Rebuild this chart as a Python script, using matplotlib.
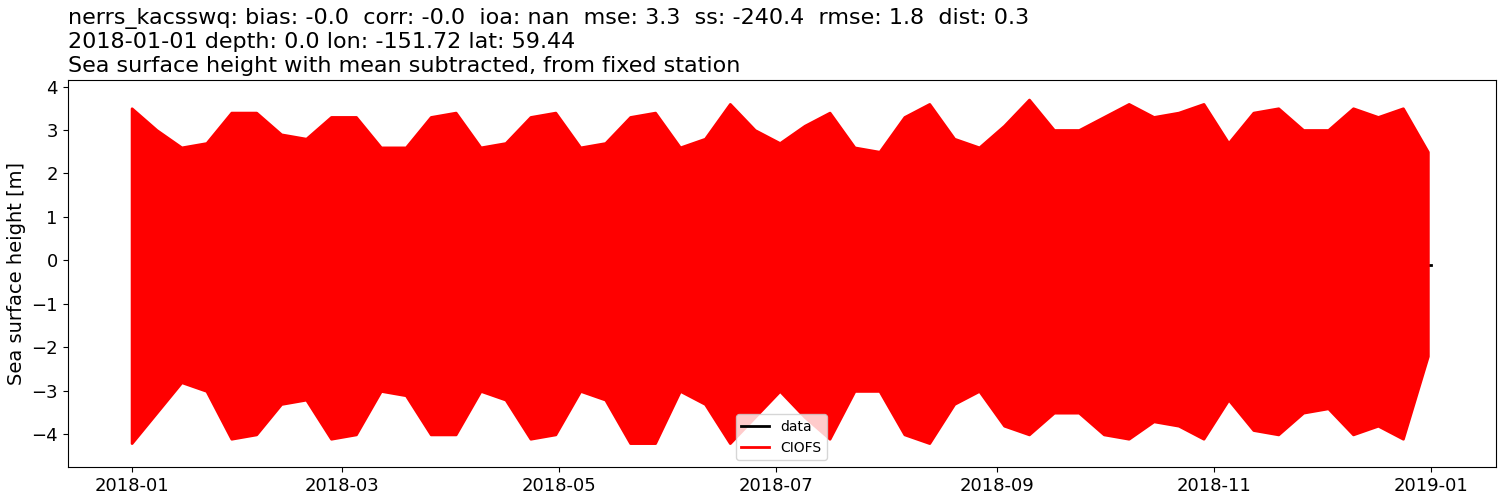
import numpy as np
import pandas as pd
import matplotlib.pyplot as plt

# envelope of the modelled sea surface height
days = np.arange(0, 365, 7)
upper = [3.5, 3.0, 2.6, 2.7, 3.4, 3.4, 2.9, 2.8, 3.3, 3.3, 2.6, 2.6, 3.3, 3.4,
         2.6, 2.7, 3.3, 3.4, 2.6, 2.7, 3.3, 3.4, 2.6, 2.8, 3.6, 3.0, 2.7, 3.1,
         3.4, 2.6, 2.5, 3.3, 3.6, 2.8, 2.6, 3.1, 3.7, 3.0, 3.0, 3.3, 3.6, 3.3,
         3.4, 3.6, 2.7, 3.4, 3.5, 3.0, 3.0, 3.5, 3.3, 3.5, 2.5]
lower = [-4.2, -3.5, -2.8, -3.0, -4.1, -4.0, -3.3, -3.2, -4.1, -4.0, -3.0, -3.1,
         -4.0, -4.0, -3.0, -3.2, -4.1, -4.0, -3.0, -3.2, -4.2, -4.2, -3.0, -3.3,
         -4.2, -3.6, -3.0, -3.6, -4.1, -3.0, -3.0, -4.0, -4.2, -3.3, -3.0, -3.8,
         -4.0, -3.5, -3.5, -4.0, -4.1, -3.7, -3.8, -4.1, -3.2, -3.9, -4.0, -3.5,
         -3.4, -4.0, -3.8, -4.1, -2.2]
obs_dates = pd.to_datetime(["2018-01-01", "2019-01-01"])
obs_vals = [-0.1, -0.1]

dates = pd.Timestamp("2018-01-01") + pd.to_timedelta(days, unit="D")

fig = plt.figure(figsize=(15, 5), dpi=100)
ax = fig.add_axes([0.045, 0.066, 0.952, 0.774])
ax.plot(obs_dates, obs_vals, color="black", lw=2, label="data", zorder=1)
ax.fill_between(dates, lower, upper, color="red", lw=2, zorder=3)
ax.plot([], [], color="red", lw=2, label="CIOFS")
ax.set_ylabel("Sea surface height [m]", fontsize=14)
ax.tick_params(labelsize=13)
ax.set_ylim(-4.75, 4.15)
ax.set_xlim(pd.Timestamp("2017-12-14"), pd.Timestamp("2019-01-19"))
ax.set_xticks(pd.to_datetime(["2018-01-01", "2018-03-01", "2018-05-01", "2018-07-01",
                              "2018-09-01", "2018-11-01", "2019-01-01"]))
ax.set_xticklabels(["2018-01", "2018-03", "2018-05", "2018-07", "2018-09", "2018-11", "2019-01"])
leg = ax.legend(loc="lower center", fontsize=10)
leg.set_zorder(5)
ax.set_title("nerrs_kacsswq: bias: -0.0  corr: -0.0  ioa: nan  mse: 3.3  ss: -240.4  rmse: 1.8  dist: 0.3\n"
             "2018-01-01 depth: 0.0 lon: -151.72 lat: 59.44\n"
             "Sea surface height with mean subtracted, from fixed station",
             loc="left", fontsize=16)
fig.savefig("out.png")
